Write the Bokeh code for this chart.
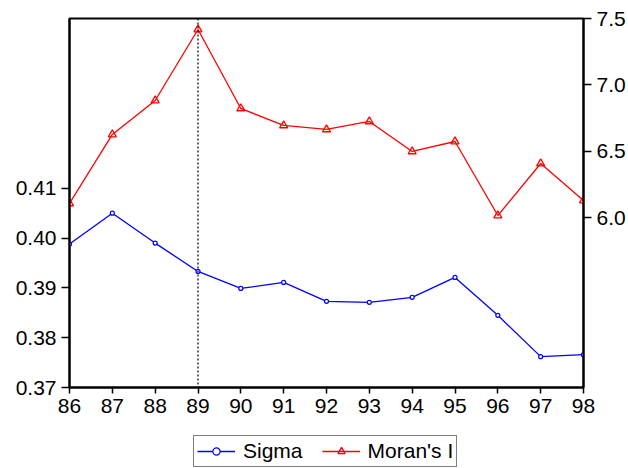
from bokeh.plotting import figure
from bokeh.layouts import column
from bokeh.models import (Range1d, LinearAxis, FixedTicker, PrintfTickFormatter,
                          Legend, LegendItem, Span)
from bokeh.embed import file_html
from bokeh.resources import INLINE

years = [86, 87, 88, 89, 90, 91, 92, 93, 94, 95, 96, 97, 98]
sigma = [0.3988, 0.4050, 0.3990, 0.3933, 0.3899, 0.3911, 0.3873, 0.3871, 0.3881, 0.3921, 0.3845, 0.3762, 0.3766]
moran = [6.106, 6.626, 6.882, 7.417, 6.822, 6.694, 6.664, 6.724, 6.498, 6.573, 6.015, 6.407, 6.128]
left_ticks = [0.37, 0.38, 0.39, 0.40, 0.41]
right_ticks = [6.0, 6.5, 7.0, 7.5]
x_ticks = years
marker_year = 89
series_names = ["Sigma", "Moran's I"]

FONT = "Liberation Sans"
FS = "21px"

p = figure(width=628, height=425, output_backend="svg", toolbar_location=None,
           x_range=Range1d(86, 98), y_range=Range1d(0.37, 0.4441),
           min_border_left=69, min_border_right=44, min_border_top=18, min_border_bottom=38)
p.extra_y_ranges = {"right": Range1d(4.719, 7.5)}
p.xgrid.visible = False
p.ygrid.visible = False
p.outline_line_color = "black"
p.outline_line_width = 2
p.background_fill_color = "white"
p.border_fill_color = "white"

def style_axis(ax):
    ax.axis_line_color = "black"
    ax.axis_line_width = 2
    ax.major_tick_line_color = "black"
    ax.major_tick_line_width = 1.5
    ax.major_tick_out = 8
    ax.major_tick_in = 0
    ax.minor_tick_line_color = None
    ax.major_label_text_font = FONT
    ax.major_label_text_font_size = FS
    ax.major_label_text_color = "black"
    ax.major_label_standoff = 5

xa = p.xaxis[0]
xa.ticker = FixedTicker(ticks=x_ticks)
style_axis(xa)
xa.major_tick_out = 6
xa.major_label_standoff = 5

ya = p.yaxis[0]
ya.ticker = FixedTicker(ticks=left_ticks)
ya.formatter = PrintfTickFormatter(format="%.2f")
style_axis(ya)

ra = LinearAxis(y_range_name="right", ticker=FixedTicker(ticks=right_ticks),
                formatter=PrintfTickFormatter(format="%.1f"))
style_axis(ra)
p.add_layout(ra, "right")

p.add_layout(Span(location=marker_year, dimension="height", line_color="black",
                  line_width=1.2, line_dash="2 2"))

BLUE = "#0000FF"
RED = "#FF0000"
p.line(years, sigma, line_color=BLUE, line_width=1.3)
p.scatter(years, sigma, marker="circle", size=4, line_color=BLUE,
          fill_color="white", line_width=1.2)
p.line(years, moran, y_range_name="right", line_color=RED, line_width=1.3)
p.scatter(years, moran, y_range_name="right", marker="triangle", size=8,
          line_color=RED, fill_color=None, line_width=1.3)

# legend strip below the chart
q = figure(width=628, height=43, output_backend="svg", toolbar_location=None,
           x_range=Range1d(0, 1), y_range=Range1d(0, 1),
           min_border_left=0, min_border_right=0, min_border_top=0, min_border_bottom=0)
q.axis.visible = False
q.xgrid.visible = False
q.ygrid.visible = False
q.outline_line_color = None
q.background_fill_color = "white"
q.border_fill_color = "white"
nan = [float("nan")]
gl1 = q.line(nan, nan, line_color=BLUE, line_width=1.3)
gm1 = q.scatter(nan, nan, marker="circle", size=3, line_color=BLUE, fill_color="white", line_width=1.2)
gl2 = q.line(nan, nan, line_color=RED, line_width=1.3)
gm2 = q.scatter(nan, nan, marker="triangle", size=7, line_color=RED, fill_color=None, line_width=1.3)

legend = Legend(items=[LegendItem(label=series_names[0], renderers=[gl1, gm1]),
                       LegendItem(label=series_names[1], renderers=[gl2, gm2])],
                orientation="horizontal", location=(124, 1),
                label_text_font=FONT, label_text_font_size="21px", label_text_color="black",
                glyph_width=38, glyph_height=18, label_height=18,
                label_standoff=8, spacing=19, padding=3, margin=0,
                border_line_color="black", border_line_width=1.5,
                background_fill_alpha=1)
q.add_layout(legend, "center")

layout = column(p, q, spacing=0)
open("out.html", "w").write(file_html(layout, INLINE))
